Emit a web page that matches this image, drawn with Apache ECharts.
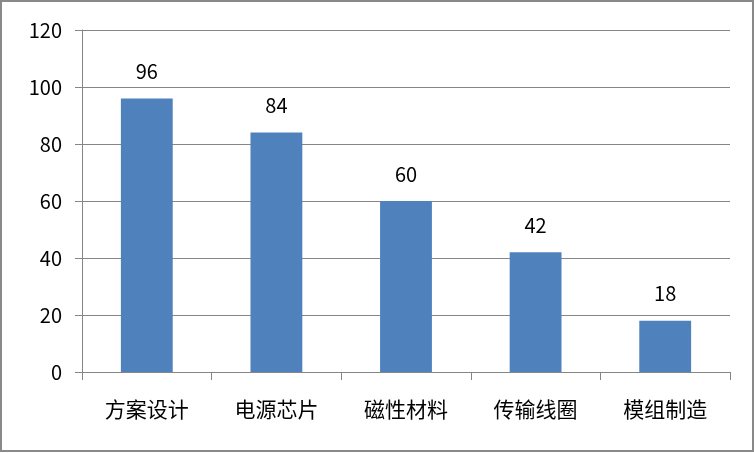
<!DOCTYPE html>
<html><head><meta charset="utf-8">
<script src="https://cdn.jsdelivr.net/npm/echarts@6/dist/echarts.min.js"></script>
<style>
html,body{margin:0;padding:0;background:#fff;}
#wrap{position:absolute;left:0;top:0;width:750px;height:448px;border:2px solid #898989;}
#c{width:750px;height:448px;}
</style></head><body>
<div id="wrap"><div id="c"></div></div>
<script>
const categories = ['方案设计','电源芯片','磁性材料','传输线圈','模组制造'];
const values = [96, 84, 60, 42, 18];
const yTicks = [0, 20, 40, 60, 80, 100, 120];

const chart = echarts.init(document.getElementById('c'));
const font = '"Noto Sans CJK SC", "Noto Sans", sans-serif';
chart.setOption({
  animation: false,
  grid: {left: 80, right: 22, top: 28, bottom: 78},
  xAxis: {
    type: 'category', data: categories,
    axisLine: {lineStyle: {color: '#868686', width: 1}},
    axisTick: {show: true, length: 8, lineStyle: {color: '#868686'}},
    axisLabel: {color: '#000', fontSize: 21, margin: 27, fontFamily: font}
  },
  yAxis: {
    type: 'value', min: yTicks[0], max: yTicks[yTicks.length-1], interval: 20,
    axisLine: {show: true, lineStyle: {color: '#868686'}},
    axisTick: {show: true, length: 7, lineStyle: {color: '#868686'}},
    splitLine: {show: true, lineStyle: {color: '#868686', width: 1}},
    axisLabel: {color: '#000', fontSize: 20, margin: 20, fontFamily: font}
  },
  series: [{
    type: 'bar', data: values, barWidth: '40%',
    itemStyle: {color: '#4F81BD'},
    label: {show: true, position: 'top', distance: 17, color: '#000', fontSize: 20, fontFamily: font}
  }]
});
</script></body></html>
